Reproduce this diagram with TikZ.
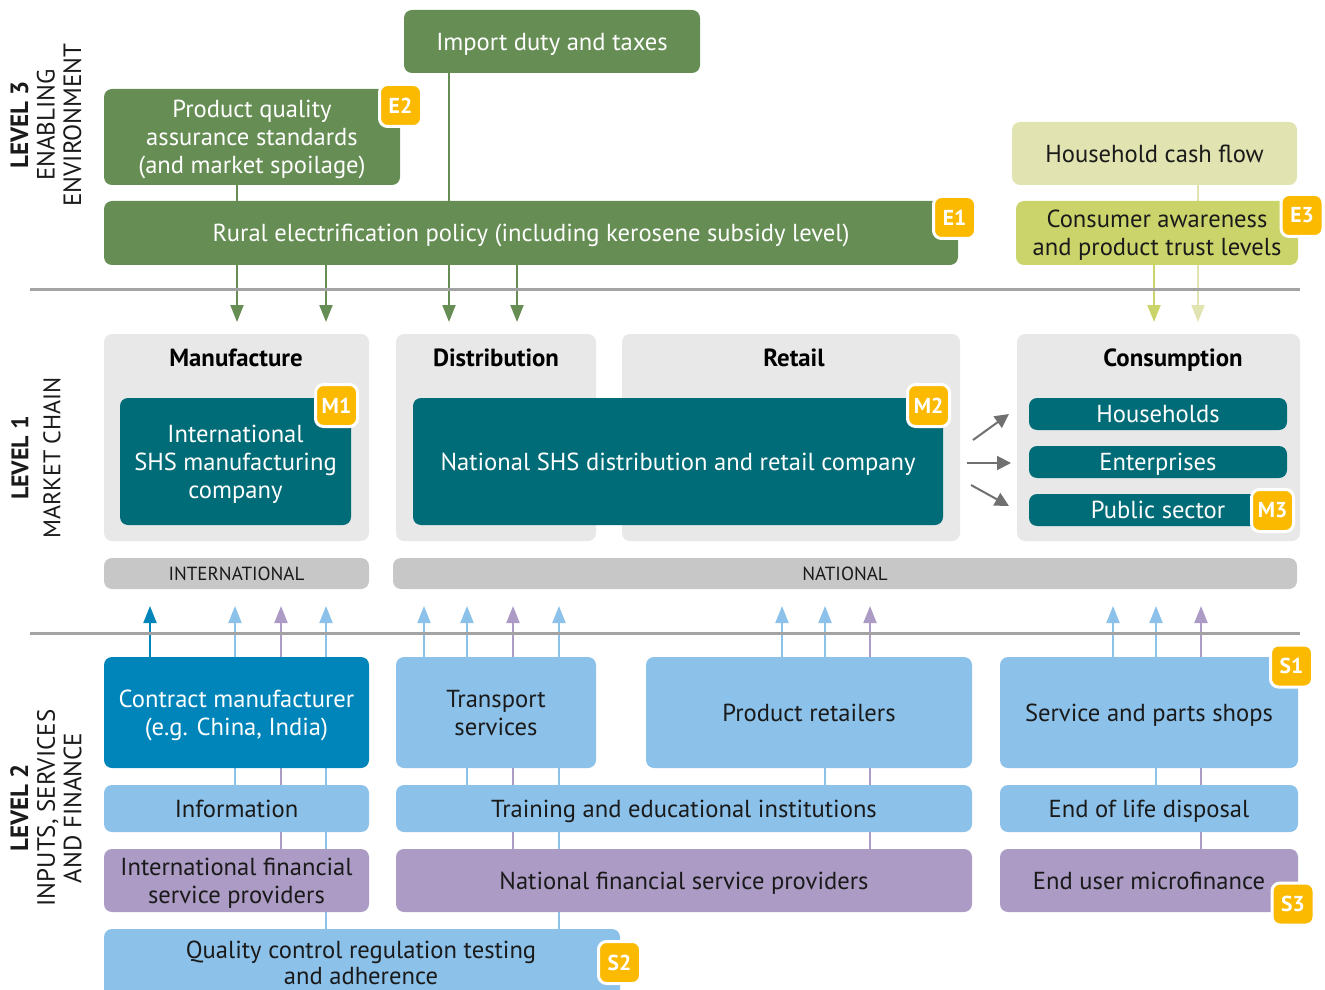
\documentclass[tikz,border=0pt]{standalone}
\usepackage{fontspec}
\setmainfont{PT Sans}
\usetikzlibrary{arrows.meta,backgrounds}
\definecolor{cGreen}{HTML}{668E54}
\definecolor{cHcf}{HTML}{E1E4B0}
\definecolor{cCon}{HTML}{CBD46A}
\definecolor{cBadge}{HTML}{FBB900}
\definecolor{cTeal}{HTML}{006C77}
\definecolor{cGray}{HTML}{E8E8E8}
\definecolor{cBar}{HTML}{C6C7C6}
\definecolor{cDblue}{HTML}{0085BA}
\definecolor{cLblue}{HTML}{8CC1E9}
\definecolor{cPurp}{HTML}{AB9BC5}
\definecolor{cSep}{HTML}{A3A3A3}
\definecolor{cArr}{HTML}{707070}
\definecolor{cText}{HTML}{1A1A1A}
\tikzset{
  box/.style={rounded corners=4pt, inner sep=0pt, align=center, text depth=-0.6pt, font=\fontsize{12.3}{14}\selectfont},
  sz/.style 2 args={minimum width=#1*0.5pt, minimum height=#2*0.5pt},
  grn/.style={box, fill=cGreen, text=white},
  hcfbox/.style={box, fill=cHcf, text=cText},
  conbox/.style={box, fill=cCon, text=cText},
  graybox/.style={box, fill=cGray},
  tealbox/.style={box, fill=cTeal, text=white},
  barbox/.style={box, fill=cBar, text=cText, text depth=0pt, font=\fontsize{9.5}{11}\selectfont},
  dbbox/.style={box, fill=cDblue, text=white},
  lbbox/.style={box, fill=cLblue, text=cText},
  ppbox/.style={box, fill=cPurp, text=cText},
  ttl/.style={font=\bfseries\fontsize{12.4}{14}\selectfont, text=black, inner sep=0pt, text depth=0pt},
  badge/.style={fill=cBadge, draw=white, line width=1.5pt, rounded corners=4pt,
    minimum size=21pt, inner sep=0pt, text=white, font=\bfseries\fontsize{10.8}{12}\selectfont},
  lvl/.style={rotate=90, align=center, inner sep=0pt, text=cText, font=\fontsize{12.5}{13.3}\selectfont},
  tipA/.style={-{Triangle[width=6.5pt,length=8.5pt]}},
  garr/.style={tipA, draw=cGreen, fill=cGreen, line width=1pt},
  carr/.style={tipA, draw=cCon, fill=cCon, line width=1pt},
  harr/.style={tipA, draw=cHcf, fill=cHcf, line width=1pt},
  dbarr/.style={tipA, draw=cDblue, fill=cDblue, line width=1pt},
  lbarr/.style={tipA, draw=cLblue, fill=cLblue, line width=1pt},
  pparr/.style={tipA, draw=cPurp, fill=cPurp, line width=1pt},
  marr/.style={-{Triangle[width=7pt,length=7pt]}, draw=cArr, line width=1pt},
  sepline/.style={draw=cSep, line width=1.5pt},
}
\begin{document}
\begin{tikzpicture}[x=0.5pt,y=-0.5pt]
\useasboundingbox (0,0) rectangle (1325,989);
\clip (0,0) rectangle (1325,989);

% level labels
\node[lvl] (l3) at (46,125) {\textbf{LEVEL 3}\\ENABLING\\ENVIRONMENT};
\node[lvl, font=\fontsize{12}{16}\selectfont] (l1) at (36,458) {\textbf{LEVEL 1}\\MARKET CHAIN};
\node[lvl] (l2) at (46,808) {\textbf{LEVEL 2}\\INPUTS, SERVICES\\AND FINANCE};

% separators
\coordinate (s1a) at (30,290); \coordinate (s1b) at (1300,290);
\coordinate (s2a) at (30,633); \coordinate (s2b) at (1300,633);
\draw[sepline] (s1a) -- (s1b);
\draw[sepline] (s2a) -- (s2b);

% ---------- Level 3 ----------
\node[grn, sz={296}{63}] (imp) at (552,41.5) {Import duty and taxes};
\node[grn, sz={296}{96}] (pq) at (252,137) {Product quality\\assurance standards\\(and market spoilage)};
\node[grn, sz={854}{64}] (rur) at (531,233) {Rural electrification policy (including kerosene subsidy level)};
\node[hcfbox, sz={285}{63}] (hcf) at (1154.5,153.5) {Household cash flow};
\node[conbox, sz={282}{64}] (con) at (1157,233) {Consumer awareness\\and product trust levels};
\node[badge] (E2) at (400.5,105.5) {E2};
\node[badge] (E1) at (954.5,217.5) {E1};
\node[badge] (E3) at (1302,215.5) {E3};

% ---------- Level 1 ----------
\node[graybox, sz={265}{207}] (manG) at (236.5,437.5) {};
\node[graybox, sz={200}{207}] (disG) at (496,437.5) {};
\node[graybox, sz={338}{207}] (retG) at (791,437.5) {};
\node[graybox, sz={283}{207}] (conG) at (1158.5,437.5) {};
\node[ttl] (tMan) at (236,358) {Manufacture};
\node[ttl] (tDis) at (496,358) {Distribution};
\node[ttl] (tRet) at (794,358) {Retail};
\node[ttl] (tCon) at (1173,358) {Consumption};
\node[tealbox, sz={231}{127}] (ishs) at (235.5,461.5) {International\\SHS manufacturing\\company};
\node[tealbox, sz={530}{127}] (nshs) at (678,461.5) {National SHS distribution and retail company};
\node[tealbox, sz={258}{32}, text depth=0pt] (hh) at (1158,414) {Households};
\node[tealbox, sz={258}{32}, text depth=0pt] (ent) at (1158,462) {Enterprises};
\node[tealbox, sz={258}{32}, text depth=0pt] (pub) at (1158,510) {Public sector};
\node[badge] (M1) at (336.5,405.5) {M1};
\node[badge] (M2) at (928.5,405.5) {M2};
\node[badge] (M3) at (1272.5,510.5) {M3};
\node[barbox, sz={265}{31}] (intl) at (236.5,573.5) {INTERNATIONAL};
\node[barbox, sz={904}{31}] (nat) at (845,573.5) {NATIONAL};

\coordinate (a1s) at (973,440); \coordinate (a1e) at (1009,414);
\coordinate (a2s) at (967,463); \coordinate (a2e) at (1011,463);
\coordinate (a3s) at (971,485); \coordinate (a3e) at (1009,506);
\draw[marr] (a1s) -- (a1e);
\draw[marr] (a2s) -- (a2e);
\draw[marr] (a3s) -- (a3e);

% ---------- Level 2 ----------
\node[dbbox, sz={265}{111}] (cm) at (236.5,712.5) {Contract manufacturer\\(e.g. China, India)};
\node[lbbox, sz={200}{111}] (ts) at (496,712.5) {Transport\\services};
\node[lbbox, sz={326}{111}] (pr) at (809,712.5) {Product retailers};
\node[lbbox, sz={298}{111}] (sp) at (1149,712.5) {Service and parts shops};
\node[lbbox, sz={265}{47}] (info) at (236.5,808.5) {Information};
\node[lbbox, sz={576}{47}] (tr) at (684,808.5) {Training and educational institutions};
\node[lbbox, sz={298}{47}] (eol) at (1149,808.5) {End of life disposal};
\node[ppbox, sz={265}{63}] (ifs) at (236.5,880.5) {International financial\\service providers};
\node[ppbox, sz={576}{63}] (nfs) at (684,880.5) {National financial service providers};
\node[ppbox, sz={298}{63}] (eum) at (1149,880.5) {End user microfinance};
\node[lbbox, sz={516}{80}] (qc) at (362,969) {};
\node[align=center, inner sep=0pt, text=cText, font=\fontsize{12.3}{13}\selectfont] (qct) at (361,963) {Quality control regulation testing\\and adherence};
\node[badge] (S1) at (1291.5,666) {S1};
\node[badge] (S3) at (1293,904) {S3};
\node[badge] (S2) at (619.5,962.5) {S2};

% arrow tips
\coordinate (g1) at (237,322); \coordinate (g2) at (326,322);
\coordinate (g3) at (449,322); \coordinate (g4) at (517,322);
\coordinate (c1) at (1154,322); \coordinate (c2) at (1198,322);
\coordinate (u1) at (150,606); \coordinate (u2) at (235,606);
\coordinate (u3) at (281,606); \coordinate (u4) at (326,606);
\coordinate (u5) at (424,606); \coordinate (u6) at (467,606);
\coordinate (u7) at (513,606); \coordinate (u8) at (559,606);
\coordinate (u9) at (782,606); \coordinate (u10) at (825,606);
\coordinate (u11) at (870,606); \coordinate (u12) at (1113,606);
\coordinate (u13) at (1156,606); \coordinate (u14) at (1201,606);

\begin{scope}[on background layer]
\draw[garr] (g1 |- pq.south) -- (g1);
\draw[garr] (g2 |- rur.south) -- (g2);
\draw[garr] (g3 |- imp.south) -- (g3);
\draw[garr] (g4 |- rur.south) -- (g4);
\draw[carr] (c1 |- con.south) -- (c1);
\draw[harr] (c2 |- hcf.north) -- (c2);
\draw[dbarr] (u1 |- cm.north) -- (u1);
\draw[lbarr] (u2 |- info.north) -- (u2);
\draw[pparr] (u3 |- ifs.north) -- (u3);
\draw[lbarr] (u4 |- qc.north) -- (u4);
\draw[lbarr] (u5 |- ts.north) -- (u5);
\draw[lbarr] (u6 |- tr.north) -- (u6);
\draw[pparr] (u7 |- nfs.north) -- (u7);
\draw[lbarr] (u8 |- qc.north) -- (u8);
\draw[lbarr] (u9 |- pr.north) -- (u9);
\draw[lbarr] (u10 |- tr.north) -- (u10);
\draw[pparr] (u11 |- nfs.north) -- (u11);
\draw[lbarr] (u12 |- sp.north) -- (u12);
\draw[lbarr] (u13 |- eol.north) -- (u13);
\draw[pparr] (u14 |- eum.north) -- (u14);
\end{scope}
\end{tikzpicture}
\end{document}
